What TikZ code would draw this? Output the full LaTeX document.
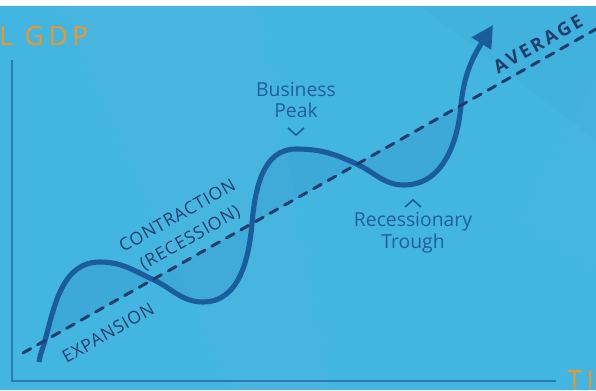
\documentclass[tikz,border=0pt]{standalone}
\usepackage{fontspec}
\setmainfont{Open Sans}
\usetikzlibrary{arrows.meta}

\definecolor{bgblue}{HTML}{42B5E1}
\definecolor{axisblue}{HTML}{2E78B0}
\definecolor{curveblue}{HTML}{1A5C9C}
\definecolor{navy}{HTML}{203E6C}
\definecolor{gdporange}{HTML}{F7941D}
\definecolor{notecol}{HTML}{225E98}

% the wavy part of the cycle, from first to last crossing of the average
\newcommand{\bizcurve}{%
  to[out=75,in=180] (pk1) to[out=0,in=155] (c2)
  to[out=-25,in=180] (tr1) to[out=0,in=-95] (c3)
  to[out=85,in=180] (pk2) to[out=0,in=155] (c4)
  to[out=-25,in=180] (tr2) to[out=0,in=-95] (c5)}

\tikzset{
  axisline/.style={draw=axisblue, line width=1.4pt},
  avgline/.style={draw=navy, line width=1.7pt, line cap=round, dash pattern=on 5pt off 4.5pt},
  cyclecurve/.style={draw=curveblue, line width=2.9pt, -{Triangle[length=12.5pt,width=12.5pt]}},
  lobe/.style={fill=curveblue, fill opacity=0.13},
  capslabel/.style={text=navy, font=\fontsize{10pt}{14.5pt}\selectfont\addfontfeature{LetterSpace=5},
    rotate=29.5, align=center, inner sep=0pt},
  notelabel/.style={text=notecol, font=\fontsize{11pt}{12.5pt}\selectfont, align=center, inner sep=0pt},
  chevron/.style={draw=curveblue, line width=0.9pt},
  axistitle/.style={text=gdporange, font=\fontsize{15pt}{17pt}\selectfont\addfontfeature{LetterSpace=18},
    inner sep=0pt, anchor=base west}
}

\begin{document}
\begin{tikzpicture}[x=0.02cm,y=0.02cm]
    \useasboundingbox (0,0) rectangle (596,390);
    \clip (0,0) rectangle (596,390);
    \fill[white] (0,0) rectangle (596,390);
    \fill[bgblue] (0,0) rectangle (596,384);% backdrop
    \fill[white, opacity=0.025] (60,384) -- (260,384) -- (330,0) -- (230,0) -- cycle;% faint facets
    \fill[black, opacity=0.015] (420,384) -- (596,384) -- (596,250) -- cycle;
    \fill[white, opacity=0.02] (596,310) -- (520,170) -- (596,120) -- cycle;
    % points of the cycle
    \coordinate (start) at (39,28);
    \coordinate (c1) at (45,49.4);
    \coordinate (pk1) at (100,128);
    \coordinate (c2) at (153,110.5);
    \coordinate (tr1) at (203,88);
    \coordinate (c3) at (252,166.5);
    \coordinate (pk2) at (296,241);
    \coordinate (c4) at (357,225.8);
    \coordinate (tr2) at (404,205);
    \coordinate (c5) at (461,284.6);
    \coordinate (tip) at (493,365);
    % axes
    \coordinate (ytop) at (12,330);
    \coordinate (origin) at (12,9);
    \coordinate (xend) at (556,9);
    \draw[axisline] (ytop) -- (origin) -- (xend);
    % shaded area between cycle and average
    \fill[lobe] (c1) \bizcurve -- cycle;
    % the cycle
    \draw[cyclecurve] (start) to[out=82,in=-105] (c1) \bizcurve to[out=85,in=-122] (tip);
    % average trend
    \coordinate (avgA) at (23,37);
    \coordinate (avgB) at (620,374.5);
    \draw[avgline] (avgA) -- (avgB);
    % labels
    \node[notelabel] (peaklbl) at (296,290) {Business\\Peak};
    \draw[chevron] (288,262) -- (296,255) -- (304,262);% peak marker
    \node[notelabel] (troughlbl) at (413,157) {Recessionary\\Trough};
    \draw[chevron] (405,183) -- (413,190) -- (421,183);% trough marker
    \node[capslabel] (explbl) at (108,57) {EXPANSION};
    \node[capslabel] (conlbl) at (184,162.5) {CONTRACTION\\(RECESSION)};
    \node[capslabel, font=\bfseries\fontsize{10.5pt}{12pt}\selectfont\addfontfeature{LetterSpace=15}] (avglbl) at (538,346) {AVERAGE};
    \node[axistitle] (gdplbl) at (-1,345) {L GDP};
    \node[axistitle] (timelbl) at (567,1) {TI};
\end{tikzpicture}
\end{document}
